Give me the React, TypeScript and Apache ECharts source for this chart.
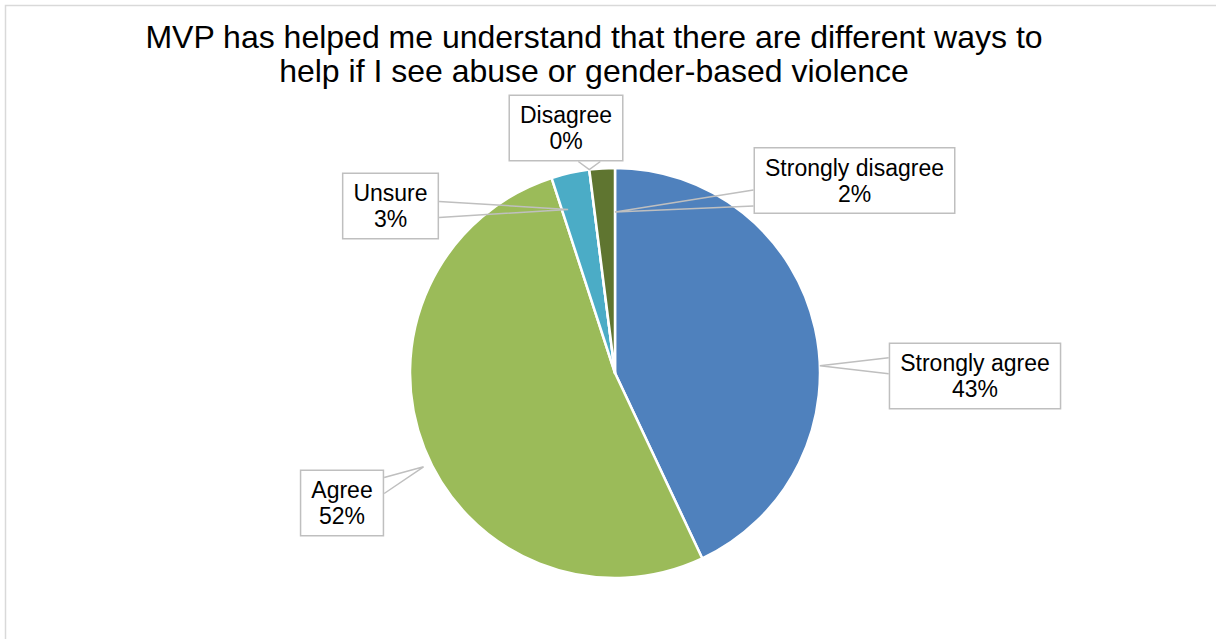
import React, { useEffect, useRef } from "react";
import * as echarts from "echarts";

const titleLines = [
  "MVP has helped me understand that there are different ways to",
  "help if I see abuse or gender-based violence",
];
const categories = ["Strongly agree", "Agree", "Unsure", "Disagree", "Strongly disagree"];
const percents = [43, 52, 3, 0, 2];
const sliceColors = ["#4F81BD", "#9BBB59", "#4BACC6", "#F79646", "#5F7530"];

// layout only
const PIE_CENTER: [number, number] = [615, 373];
const PIE_RADIUS = 205;
const labelCenters: [number, number][] = [
  [975, 376],
  [342, 503],
  [390.5, 206],
  [566, 128],
  [854.5, 180.5],
];
// callout tip: offset (degrees) from slice mid-angle, and depth as fraction of radius
const tipAngleOffset = [10.6, -4.5, -3.4, 0, 3.6];
const tipDepth = [1, 1.04, 0.83, 1.0, 0.785];

const FONT = '"Liberation Sans", Arial, Helvetica, sans-serif';

function clamp(v: number, a: number, b: number) {
  return Math.max(a, Math.min(b, v));
}

export default function App() {
  const ref = useRef<HTMLDivElement>(null);
  useEffect(() => {
    if (!ref.current) return;
    const chart = echarts.init(ref.current, null, { renderer: "svg" });
    const total = percents.reduce((a, b) => a + b, 0);
    const midAngles: number[] = [];
    let cum = 0;
    percents.forEach((v) => {
      midAngles.push(((cum + v / 2) / total) * 360);
      cum += v;
    });

    const common = {
      type: "pie",
      center: PIE_CENTER,
      radius: PIE_RADIUS,
      startAngle: 90,
      clockwise: true,
      avoidLabelOverlap: false,
      silent: true,
      emphasis: { disabled: true },
    };

    chart.setOption({
      animation: false,
      backgroundColor: "#ffffff",
      graphic: [
        {
          type: "rect",
          shape: { x: 5.5, y: 5.5, width: 1400, height: 1000 },
          style: { fill: "none", stroke: "#D9D9D9", lineWidth: 1.5 },
          silent: true,
        },
        {
          type: "text",
          x: 594,
          y: 20,
          style: {
            text: titleLines.join("\n"),
            fontSize: 32,
            fontFamily: FONT,
            fill: "#000000",
            align: "center",
            textAlign: "center",
            verticalAlign: "top",
            textVerticalAlign: "top",
            lineHeight: 34,
          },
        },
      ],
      series: [
        {
          ...common,
          z: 2,
          data: categories.map((name, i) => ({
            name,
            value: percents[i],
            itemStyle: { color: sliceColors[i] },
          })),
          itemStyle: { borderColor: "#ffffff", borderWidth: 2.5 },
          label: { show: false },
          labelLine: { show: false },
        },
        {
          ...common,
          z: 5,
          data: categories.map((name, i) => ({
            name,
            value: percents[i],
          })),
          itemStyle: { color: "rgba(0,0,0,0)", borderWidth: 0 },
          label: {
            show: true,
            position: "outside",
            formatter: (p: any) => `${p.name}\n${Math.round(p.value)}%`,
            fontSize: 23,
            fontFamily: FONT,
            color: "#000000",
            lineHeight: 26,
            align: "center",
            backgroundColor: "#ffffff",
            borderColor: "#BFBFBF",
            borderWidth: 1.5,
            padding: [6, 10],
          },
          labelLine: {
            show: true,
            length: 15,
            length2: 10,
            minTurnAngle: 0,
            maxSurfaceAngle: 180,
            lineStyle: { color: "#BFBFBF", width: 1.5 },
          },
          labelLayout: (params: any) => {
            const i = params.dataIndex;
            const c = labelCenters[i];
            const lr = params.labelRect;
            const w = lr.width;
            const h = lr.height;
            const bx = c[0] - w / 2;
            const by = c[1] - h / 2;
            const theta = ((midAngles[i] + tipAngleOffset[i]) * Math.PI) / 180;
            const rr = PIE_RADIUS * tipDepth[i];
            const tip = [
              PIE_CENTER[0] + rr * Math.sin(theta),
              PIE_CENTER[1] - rr * Math.cos(theta),
            ];
            let A: number[];
            let B: number[];
            if (tip[0] < bx || tip[0] > bx + w) {
              const sx = tip[0] < bx ? bx : bx + w;
              const yc = clamp(tip[1], by + 16, by + h - 16);
              A = [sx, yc - 8];
              B = [sx, yc + 8];
            } else {
              const sy = tip[1] < by ? by : by + h;
              const xc = clamp(tip[0], bx + 16, bx + w - 16);
              A = [xc - 11, sy];
              B = [xc + 11, sy];
            }
            return {
              x: c[0],
              y: c[1],
              align: "center",
              verticalAlign: "middle",
              labelLinePoints: [A, tip, B],
            };
          },
        },
      ],
    });
    return () => chart.dispose();
  }, []);
  return (
    <div
      ref={ref}
      style={{ position: "absolute", left: 0, top: 0, width: 1216, height: 639 }}
    />
  );
}
